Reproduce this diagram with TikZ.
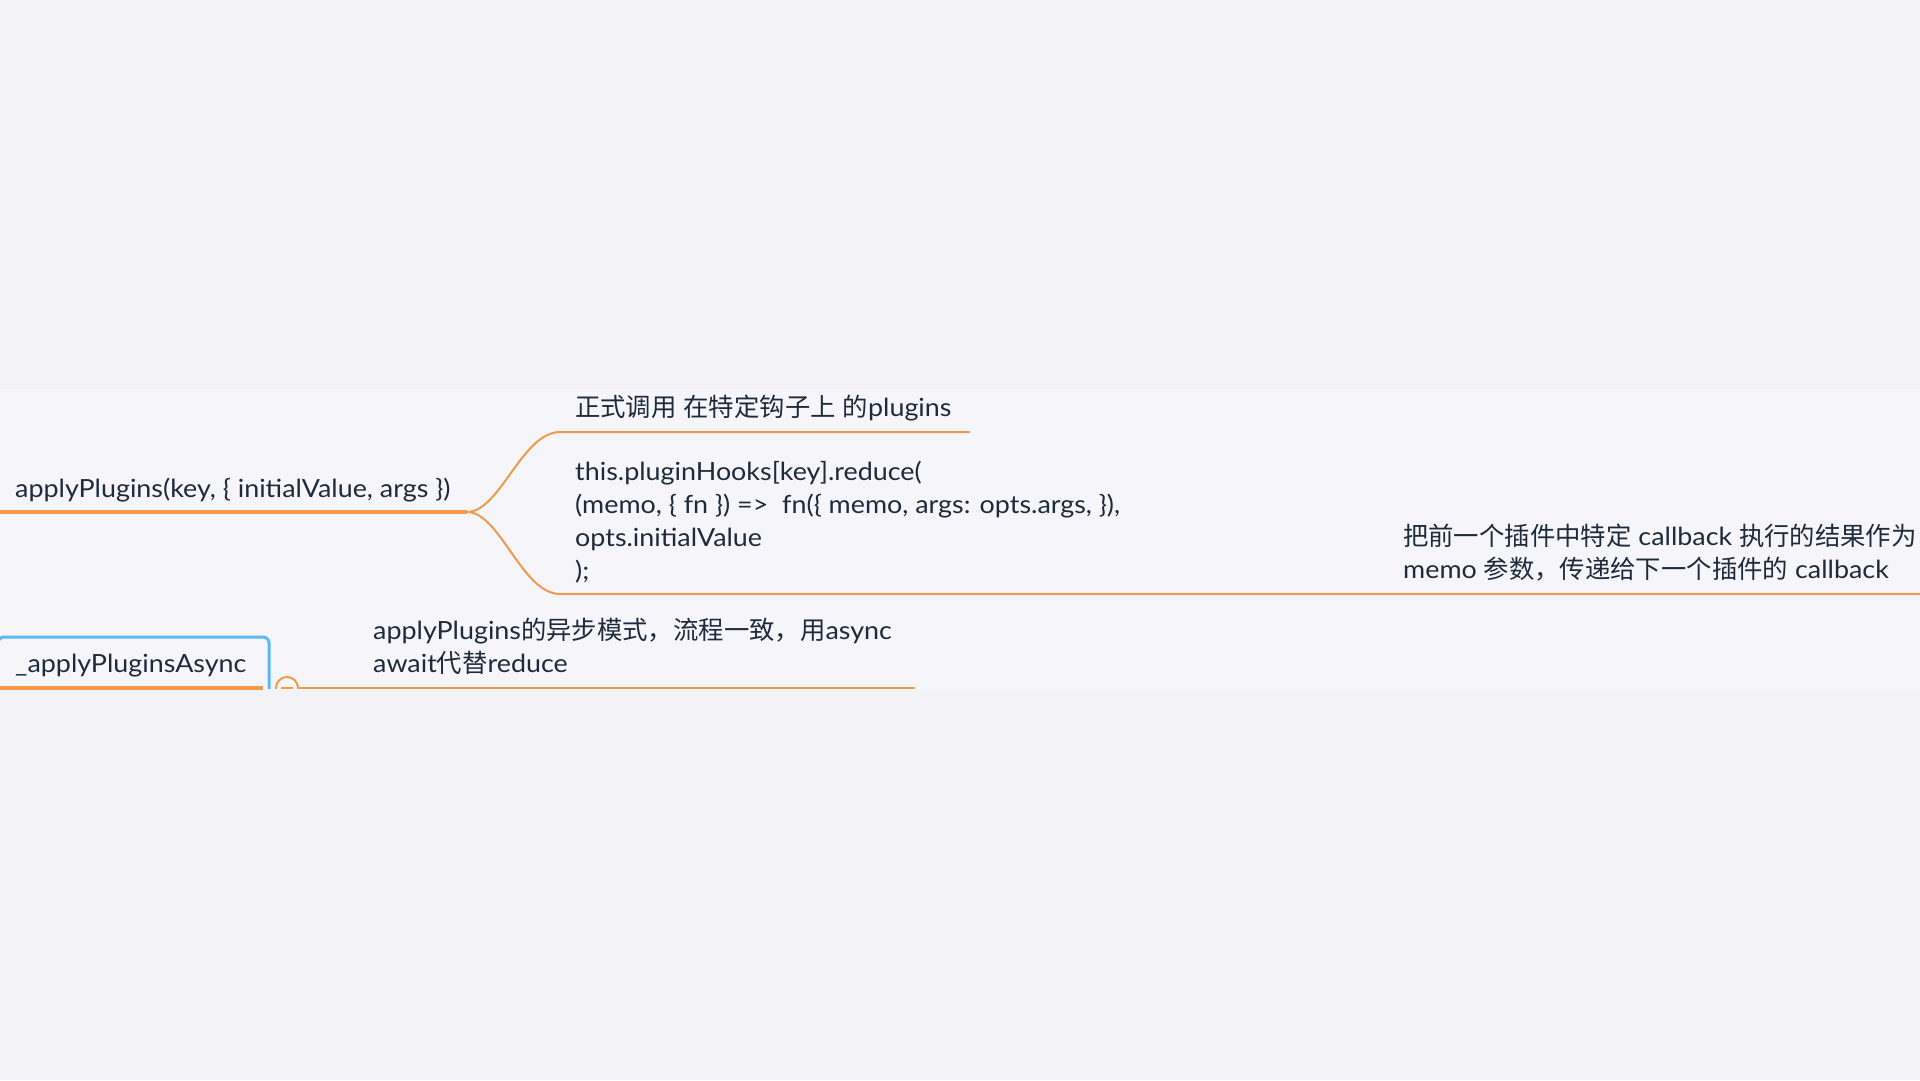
\documentclass[tikz,border=0pt]{standalone}
\usepackage{fontspec}
\setmainfont{Lato}[FakeStretch=1.075]
\newfontfamily\cjk[Scale=1.015]{Noto Sans CJK SC}
\definecolor{bgout}{HTML}{F2F2F7}
\definecolor{bgband}{HTML}{F5F5FA}
\definecolor{ink}{HTML}{1F2B3B}
\definecolor{branch}{HTML}{F09A4C}
\definecolor{selblue}{HTML}{5BB8F5}
\tikzset{
  txt/.style={anchor=base west, inner sep=0pt, text=ink, font=\fontsize{25}{33}\selectfont},
  thickline/.style={draw=branch, line width=4pt},
  thinline/.style={draw=branch, line width=2pt},
  selbox/.style={draw=selblue, line width=3pt, rounded corners=6pt}
}
\begin{document}
\begin{tikzpicture}[x=1pt, y=-1pt]
\useasboundingbox (0,0) rectangle (1920,1080);
\fill[bgout] (0,0) rectangle (1920,1080);
\fill[bgband] (0,389) rectangle (1920,690);

% root topic
\node[txt] (root) at (15,497) {applyPlugins(key, \{ initialValue, args \})};
\coordinate (rootL) at (0,512);
\coordinate (j) at (467,512);
\draw[thickline] (rootL) -- (j);

% branch 1
\node[txt] (b1t) at (575,416) {{\cjk 正式调用} {\cjk 在特定钩子上} {\cjk 的}plugins};
\coordinate (b1s) at (560,432);
\coordinate (b1e) at (970,432);
\draw[thinline] (j) .. controls (500,512) and (522,432) .. (b1s) -- (b1e);

% branch 2 (code)
\node[txt] (c1) at (575,480) {this.pluginHooks[key].reduce(};
\node[txt] (c2) at (575,513) {(memo, \{ fn \}) =>\ \ fn(\{ memo, args: opts.args, \}),};
\node[txt] (c3) at (575,546) {opts.initialValue};
\node[txt] (c4) at (575,579) {);};
\coordinate (b2s) at (560,594);
\coordinate (b2e) at (1920,594);
\draw[thinline] (j) .. controls (500,512) and (522,594) .. (b2s) -- (b2e);

% note on branch 2
\node[txt] (n1) at (1403,545) {{\cjk 把前一个插件中特定} callback {\cjk 执行的结果作为}};
\node[txt] (n2) at (1403,578) {memo {\cjk 参数，传递给下一个插件的} callback};

% async topic
\node[txt] (async) at (15,672) {\_applyPluginsAsync};
\coordinate (aL) at (0,688);
\coordinate (aR) at (263,688);
\draw[thickline, line width=3.5pt] (aL) -- (aR);
\draw[selbox] (-2,689) -- (-2,637) -- (269,637) -- (269,689);

% collapse marker
\coordinate (cm) at (287,688);
\begin{scope}
  \clip (270,670) rectangle (310,688);
  \draw[thinline] (cm) circle[radius=11];
\end{scope}
\draw[thinline] (281,688) -- (293,688);

% async child
\coordinate (a2s) at (298,688);
\coordinate (a2e) at (915,688);
\draw[thinline] (a2s) -- (a2e);
\node[txt] (at1) at (373,639) {applyPlugins{\cjk 的异步模式，流程一致，用}async};
\node[txt] (at2) at (373,672) {await{\cjk 代替}reduce};
\end{tikzpicture}
\end{document}
